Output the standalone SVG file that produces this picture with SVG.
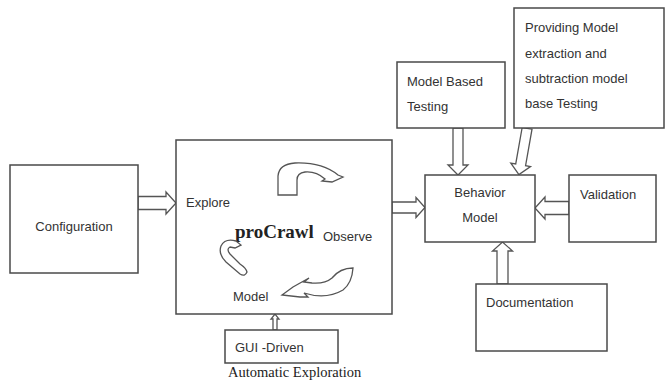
<svg xmlns="http://www.w3.org/2000/svg" width="666" height="383" viewBox="0 0 666 383">
<style>
.box{fill:#fff;stroke:#4a4a4a;stroke-width:1.5}
.arr{fill:#fff;stroke:#555;stroke-width:1.3;stroke-linejoin:miter}
.curl{fill:#fff;stroke:#555;stroke-width:1.3}
.t{font-family:"Liberation Sans",Arial,sans-serif;font-size:13px;fill:#333}
.s{font-family:"Liberation Serif","Times New Roman",serif;fill:#222}
</style>
<rect width="666" height="383" fill="#fff"/>
<g id="connectors">
<polygon class="arr" points="138,196.5 166,196.5 166,192 176,203 166,214 166,209.5 138,209.5"/>
<polygon class="arr" points="392,202 416,202 416,197.5 425,207.5 416,217.5 416,213 392,213"/>
<polygon class="arr" points="569,201.5 545,201.5 545,197 535,208 545,219 545,214.5 569,214.5"/>
<polygon class="arr" points="497,284 497,251 492.5,251 502.5,242 512.5,251 508,251 508,284"/>
<polygon class="arr" points="453,128 453,165 448,165 458,175 468,165 463,165 463,128"/>
<g transform="translate(523,151.5) rotate(10)">
<polygon class="arr" points="-5,-23.5 -5,13.5 -10,13.5 0,23.5 10,13.5 5,13.5 5,-23.5"/>
</g>
<polygon class="arr" points="273,330 273,319 271,319 275,314 279,319 277,319 277,330"/>
</g>
<g id="configuration">
<rect class="box" x="10" y="165" width="128" height="108"/>
<text class="t" x="74" y="231" text-anchor="middle">Configuration</text>
</g>
<g id="procrawl">
<rect class="box" x="176" y="140" width="216" height="174"/>
<text class="t" x="186" y="207">Explore</text>
<text class="s" x="235" y="238" font-size="19" font-weight="bold">proCrawl</text>
<text class="t" x="323" y="241">Observe</text>
<text class="t" x="233" y="301">Model</text>
<path class="curl" d="M278,195 L278,176 Q279,164 295,163 Q322,162 338,175 L343,177 L332,182 L322,181 L325,179 Q316,171 305,172 Q297,173 297,180 L297,195 Z"/>
<path class="curl" d="M236,241 Q225,238 221,246 Q218,254 226,262 L240,274 Q245,277 247,272 Q246,268 240,264 L230,254 Q226,249 230,247 L235,248 L241,245 Z"/>
<path class="curl" d="M353,268 Q340,268 332,278 Q325,284 312,283 L304,282 L309,278 L293,287 L282,295 L300,297 L308,297 L304,293 Q326,300 343,290 Q352,283 353,268 Z"/>
</g>
<g id="gui-driven">
<rect class="box" x="225" y="330" width="113" height="33"/>
<text class="t" x="235" y="352">GUI -Driven</text>
<text class="s" x="228" y="377" font-size="14.5">Automatic Exploration</text>
</g>
<g id="behavior-model">
<rect class="box" x="425" y="175" width="110" height="67"/>
<text class="t" x="480" y="197" text-anchor="middle">Behavior</text>
<text class="t" x="480" y="222" text-anchor="middle">Model</text>
</g>
<g id="validation">
<rect class="box" x="569" y="175" width="87" height="67"/>
<text class="t" x="580" y="199">Validation</text>
</g>
<g id="documentation">
<rect class="box" x="476" y="284" width="131" height="67"/>
<text class="t" x="486" y="307">Documentation</text>
</g>
<g id="model-based-testing">
<rect class="box" x="397" y="62" width="108" height="66"/>
<text class="t" x="407" y="86">Model Based</text>
<text class="t" x="407" y="111">Testing</text>
</g>
<g id="providing">
<rect class="box" x="514" y="8" width="150" height="120"/>
<text class="t" x="525" y="32">Providing Model</text>
<text class="t" x="525" y="58">extraction and</text>
<text class="t" x="525" y="83">subtraction model</text>
<text class="t" x="525" y="108">base Testing</text>
</g>
</svg>
